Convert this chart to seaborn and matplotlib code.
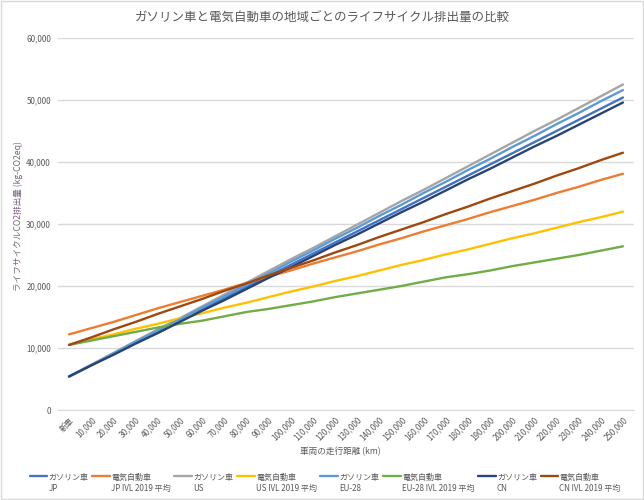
import matplotlib.pyplot as plt
import matplotlib.patches as patches
import pandas as pd
import seaborn as sns

# distance categories
distance_labels = ['新車', '10,000', '20,000', '30,000', '40,000', '50,000', '60,000', '70,000',
                   '80,000', '90,000', '100,000', '110,000', '120,000', '130,000', '140,000',
                   '150,000', '160,000', '170,000', '180,000', '190,000', '200,000', '210,000',
                   '220,000', '230,000', '240,000', '250,000']

# values (kg-CO2eq)
jp_gas = [5400, 7200, 9000, 10800, 12600, 14400, 16200, 18000, 19800, 21600, 23400, 25200, 27000,
          28800, 30600, 32400, 34200, 36000, 37800, 39600, 41400, 43200, 45000, 46800, 48600, 50400]
jp_ev = [12200, 13200, 14200, 15300, 16400, 17400, 18400, 19400, 20500, 21500, 22500, 23600, 24600,
         25600, 26700, 27700, 28800, 29800, 30800, 31900, 32900, 33900, 35000, 36000, 37100, 38100]
us_gas = [5400, 7300, 9200, 11100, 13000, 14800, 16700, 18600, 20500, 22400, 24300, 26100, 28000,
          29900, 31800, 33700, 35500, 37400, 39300, 41200, 43100, 45000, 46800, 48700, 50600, 52500]
us_ev = [10500, 11400, 12200, 13100, 13900, 14800, 15600, 16500, 17300, 18200, 19100, 19900, 20800,
         21600, 22500, 23400, 24200, 25100, 25900, 26800, 27700, 28500, 29400, 30300, 31100, 32000]
eu_gas = [5400, 7200, 9100, 11000, 12800, 14600, 16500, 18300, 20200, 22000, 23900, 25700, 27600,
          29400, 31300, 33100, 35000, 36800, 38700, 40500, 42400, 44200, 46100, 47900, 49800, 51600]
eu_ev = [10500, 11200, 11900, 12600, 13300, 13900, 14400, 15100, 15800, 16300, 16900, 17500, 18200,
         18800, 19400, 20000, 20700, 21400, 21900, 22500, 23200, 23800, 24400, 25000, 25700, 26400]
cn_gas = [5400, 7200, 8900, 10700, 12400, 14200, 16000, 17700, 19500, 21300, 23000, 24800, 26600,
          28300, 30100, 31900, 33600, 35400, 37200, 38900, 40700, 42500, 44200, 46000, 47800, 49600]
cn_ev = [10500, 11700, 13000, 14200, 15500, 16700, 17900, 19200, 20400, 21700, 22900, 24100, 25400,
         26600, 27900, 29100, 30300, 31600, 32800, 34100, 35300, 36500, 37800, 39000, 40300, 41500]

series_names = ['ガソリン車\nJP', '電気自動車\nJP IVL 2019 平均',
                'ガソリン車\nUS', '電気自動車\nUS IVL 2019 平均',
                'ガソリン車\nEU-28', '電気自動車\nEU-28 IVL 2019 平均',
                'ガソリン車\nCN', '電気自動車\nCN IVL 2019 平均']
series_values = [jp_gas, jp_ev, us_gas, us_ev, eu_gas, eu_ev, cn_gas, cn_ev]
colors = ['#4472C4', '#ED7D31', '#A5A5A5', '#FFC000', '#5B9BD5', '#70AD47', '#264478', '#9E480E']

rows = []
for name, vals in zip(series_names, series_values):
    for i, v in enumerate(vals):
        rows.append({'idx': i, 'val': v, 'series': name})
df = pd.DataFrame(rows)

sns.set_style('white')
plt.rcParams['font.family'] = ['Noto Sans CJK JP', 'DejaVu Sans']

fig = plt.figure(figsize=(6.44, 5), dpi=100)
ax = fig.add_axes([0.090, 0.18, 0.8945, 0.744])

sns.lineplot(data=df, x='idx', y='val', hue='series', hue_order=series_names,
             palette=colors, linewidth=1.7, ax=ax, sort=False)

ax.set_xlim(-0.5, 25.5)
ax.set_ylim(0, 60000)
ax.set_yticks(range(0, 60001, 10000))
ax.set_yticklabels([f'{v:,}' for v in range(0, 60001, 10000)], fontsize=5.8, color='#595959')
ax.set_xticks(range(len(distance_labels)))
ax.set_xticklabels(distance_labels, rotation=45, ha='right', rotation_mode='anchor',
                   fontsize=5.8, color='#595959')
ax.tick_params(axis='y', length=0, pad=5)
ax.tick_params(axis='x', length=0, pad=4)
ax.yaxis.grid(True, color='#D9D9D9', linewidth=1)
ax.set_axisbelow(True)
for s in ['top', 'right', 'left']:
    ax.spines[s].set_visible(False)
ax.spines['bottom'].set_color('#D9D9D9')

ax.set_xlabel('車両の走行距離 (km)', fontsize=6.2, color='#595959')
ax.xaxis.set_label_coords(0.49, -0.1)
ax.set_ylabel('ライフサイクルCO2排出量 (kg-CO2eq)', fontsize=6.2, color='#7a5f80')
ax.yaxis.set_label_coords(-0.06, 0.52)
fig.suptitle('ガソリン車と電気自動車の地域ごとのライフサイクル排出量の比較',
             fontsize=9, color='#595959', y=0.978)

handles, labels = ax.get_legend_handles_labels()
ax.get_legend().remove()
leg = fig.legend(handles, labels, loc='center', bbox_to_anchor=(0.505, 0.034), ncol=8,
                 frameon=False, fontsize=5.8, handlelength=2.2, handletextpad=0.15,
                 columnspacing=0.45, labelcolor='#595959')
# put the handle next to the first line of each two-line label
for col in leg._legend_handle_box.get_children():
    for entry in col.get_children():
        entry.align = 'top'

fig.patches.append(patches.Rectangle((0.002, 0.002), 0.996, 0.996, transform=fig.transFigure,
                                     fill=False, edgecolor='#D9D9D9', linewidth=1))

plt.savefig('out.png', dpi=100)
